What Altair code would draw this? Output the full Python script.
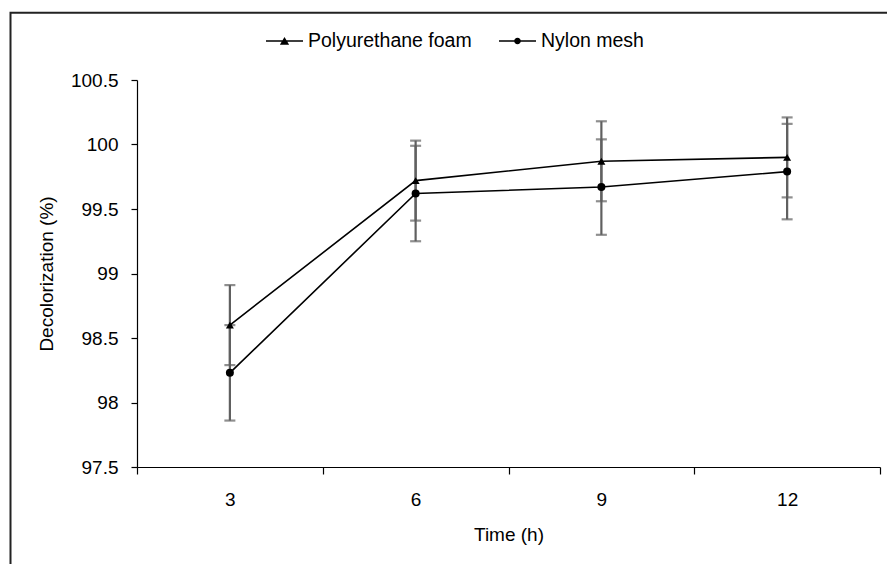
import altair as alt
import pandas as pd

# ---- data ----
time_h = [3, 6, 9, 12]
pu_mean = [98.60, 99.72, 99.87, 99.90]
pu_err = [0.31, 0.31, 0.31, 0.31]
ny_mean = [98.23, 99.62, 99.67, 99.79]
ny_err = [0.37, 0.37, 0.37, 0.37]
series_names = ["Polyurethane foam", "Nylon mesh"]
x_tick_values = [1.5, 3, 4.5, 6, 7.5, 9, 10.5, 12, 13.5]
y_tick_values = [97.5, 98, 98.5, 99, 99.5, 100, 100.5]

rows = []
for name, means, errs in [(series_names[0], pu_mean, pu_err), (series_names[1], ny_mean, ny_err)]:
    for t, m, e in zip(time_h, means, errs):
        rows.append({"series": name, "time": t, "mean": m, "err": e})
df = pd.DataFrame(rows)

FONT = "Liberation Sans"
FS = 19
ERR_COLOR = "#606060"

x_enc = alt.X(
    "time:Q",
    scale=alt.Scale(domain=[1.5, 13.5], nice=False, zero=False),
    axis=alt.Axis(
        values=x_tick_values,
        labelExpr="datum.value % 3 == 0 ? datum.label : ''",
        tickOpacity={"condition": {"test": "datum.value % 3 == 0", "value": 0}, "value": 1},
        title="Time (h)",
        grid=False,
        tickSize=7,
        labelPadding=16,
        titlePadding=16,
        labelOverlap=False,
        labelFlush=False,
    ),
)

y_axis = alt.Axis(
    values=y_tick_values,
    title="Decolorization (%)",
    grid=False,
    tickSize=6,
    labelPadding=13,
    titlePadding=14,
    format="~g",
)
y_scale = alt.Scale(domain=[97.5, 100.5], nice=False, zero=False)

base = alt.Chart(df).transform_calculate(
    lo="datum.mean - datum.err", hi="datum.mean + datum.err"
)

err_rule = base.mark_rule(color=ERR_COLOR, strokeWidth=2.2).encode(
    x=x_enc,
    y=alt.Y("lo:Q", scale=y_scale, axis=y_axis),
    y2="hi:Q",
)
cap_lo = base.mark_tick(color=ERR_COLOR, size=11, thickness=2.2, orient="horizontal").encode(
    x=x_enc, y=alt.Y("lo:Q", scale=y_scale, axis=y_axis)
)
cap_hi = base.mark_tick(color=ERR_COLOR, size=11, thickness=2.2, orient="horizontal").encode(
    x=x_enc, y=alt.Y("hi:Q", scale=y_scale, axis=y_axis)
)

lines = base.mark_line(color="black", strokeWidth=1.6).encode(
    x=x_enc,
    y=alt.Y("mean:Q", scale=y_scale, axis=y_axis),
    detail="series:N",
)

points = base.mark_point(filled=True, size=64, color="black", opacity=1).encode(
    x=x_enc,
    y=alt.Y("mean:Q", scale=y_scale, axis=y_axis),
    shape=alt.Shape(
        "series:N",
        scale=alt.Scale(domain=series_names, range=["triangle-up", "circle"]),
        legend=None,
    ),
)

# legend-only layer: line + marker symbols (line drawn as a thin filled bar)
bar = "M-1,-0.045H1V0.045H-1Z"
tri_path = bar + "M-0.25,0.2L0,-0.22L0.25,0.2Z"
circ_path = bar + "M-0.18,0A0.18,0.18 0 1,1 0.18,0A0.18,0.18 0 1,1 -0.18,0Z"
legend_layer = base.mark_point(
    filled=True, size=1369, color="black", opacity=0
).encode(
    x=x_enc,
    y=alt.Y("mean:Q", scale=y_scale, axis=y_axis),
    shape=alt.Shape(
        "series:N",
        scale=alt.Scale(domain=series_names, range=[tri_path, circ_path]),
        legend=alt.Legend(
            title=None,
            orient="none",
            legendX=129,
            legendY=-57.5,
            direction="horizontal",
            symbolSize=1369,
            symbolOpacity=1,
            symbolFillColor="black",
            symbolStrokeColor="black",
            symbolStrokeWidth=0,
            labelFontSize=19.5,
            labelFont=FONT,
            labelColor="black",
            labelLimit=400,
            labelOffset=5,
            columnPadding=27,
            padding=0,
        ),
    ),
)

frame = alt.Chart(alt.Data(values=[{"f": 1}])).mark_rect(
    fill="transparent", stroke="#222222", strokeWidth=2
).encode(
    x=alt.value(-126.5),
    x2=alt.value(900),
    y=alt.value(-67.3),
    y2=alt.value(700),
)

chart = (
    alt.layer(frame, err_rule, cap_lo, cap_hi, lines, points, legend_layer)
    .resolve_scale(shape="independent")
    .properties(
        width=743,
        height=387,
        padding={"left": 137, "top": 80, "right": 7, "bottom": 97},
        autosize=alt.AutoSizeParams(type="none"),
        background="white",
    )
    .configure_view(stroke="transparent")
    .configure_axis(
        labelFont=FONT,
        titleFont=FONT,
        labelFontSize=FS,
        titleFontSize=FS,
        labelColor="black",
        titleColor="black",
        titleFontWeight="normal",
        domainColor="black",
        tickColor="black",
        domainWidth=1.2,
        tickWidth=1.2,
    )
)

chart.save("out.html", embed_options={"renderer": "svg", "actions": False})
